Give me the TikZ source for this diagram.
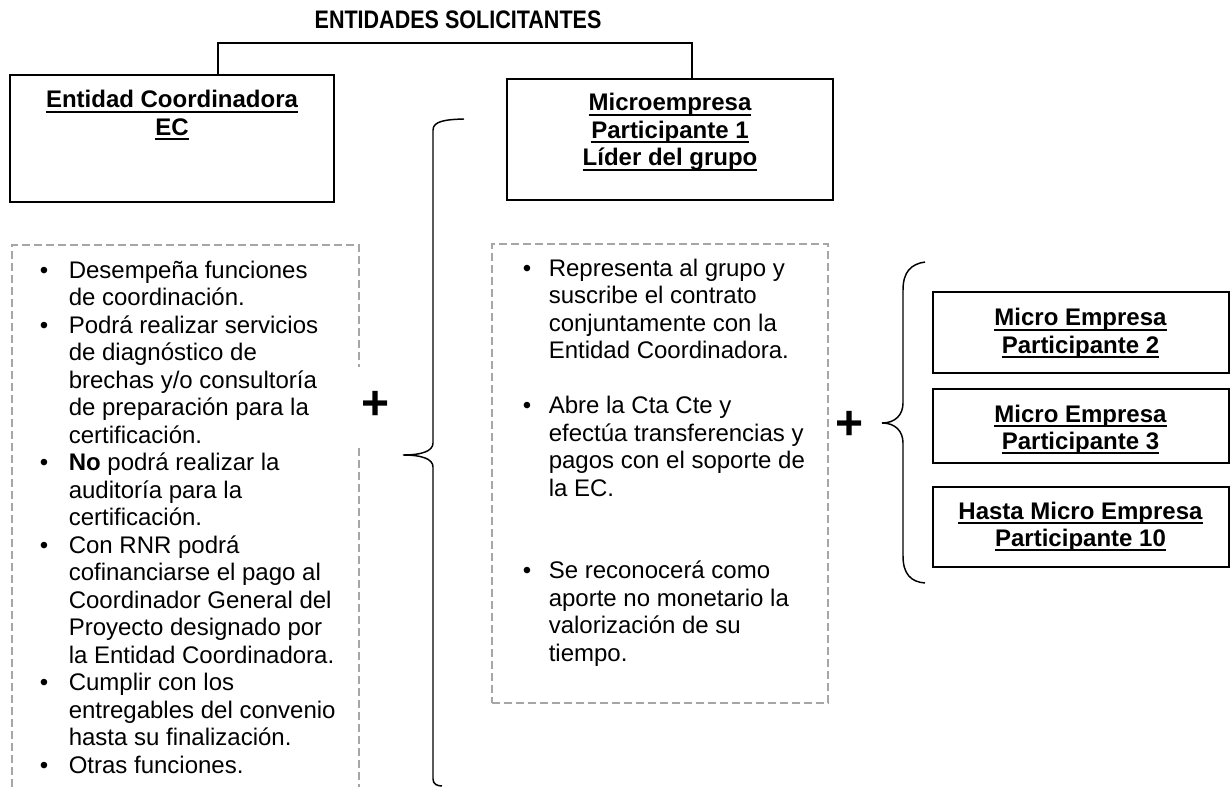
\documentclass[tikz,border=0pt]{standalone}
\usepackage{fontspec}
\setmainfont{Liberation Sans}
\newfontfamily\titlefont[FakeStretch=0.85]{Liberation Sans}
\newcommand\ulx[1]{\setbox0\hbox{#1}\rlap{\rule[-3.4pt]{\wd0}{1.5pt}}\box0}
\newcommand\fs{\fontsize{18pt}{20.625pt}\selectfont}
\newcommand\bl{\makebox[21.75pt][l]{•}}
\newcommand\ind{\hspace*{21.75pt}}
\newcommand\bm{\makebox[19.5pt][l]{•}}
\newcommand\inm{\hspace*{19.5pt}}
\tikzset{
  box/.style={draw, line width=1.5pt, inner sep=0pt},
  dashbox/.style={draw=black!35, line width=1pt, dash pattern=on 6pt off 3pt},
  lbl/.style={font=\fs\bfseries, align=center, inner sep=0pt, anchor=base},
  lst/.style={font=\fs, align=left, inner sep=0pt, anchor=base west},
  conn/.style={line width=1.1pt},
  brc/.style={line width=1.1pt},
  plus/.style={font=\fontsize{36pt}{36pt}\selectfont\bfseries, inner sep=0pt}
}
\begin{document}
\begin{tikzpicture}[x=0.75pt,y=-0.75pt]
\path[use as bounding box] (0,0) rectangle (1230,787);

% title
\node[lbl, font=\fontsize{19pt}{22pt}\selectfont\bfseries] (title) at (458,29) {\titlefont ENTIDADES SOLICITANTES};

% top boxes (text anchors are at the baseline of the last line)
\node[box, minimum width=243pt, minimum height=95.25pt] (ec) at (172,138.5) {};
\node[lbl] (ect) at (172,135.5) {\ulx{Entidad Coordinadora}\\\ulx{EC}};
\node[box, minimum width=244.5pt, minimum height=90.4pt] (me1) at (670,139.25) {};
\node[lbl] (me1t) at (670,166) {\ulx{Microempresa}\\\ulx{Participante 1}\\\ulx{Líder del grupo}};

% connector
\coordinate (jl) at (218,43);
\coordinate (jr) at (692,43);
\draw[conn] (ec.north -| jl) -- (jl) -- (jr) -- (me1.north -| jr);

% dashed boxes
\node[minimum width=260.25pt, minimum height=406.5pt, inner sep=0pt, outer sep=0pt] (ecd) at (185.5,516) {};
\draw[dashbox] (ecd.south west) |- (ecd.north east) -- (ecd.south east);
\node[dashbox, minimum width=252pt, minimum height=344.25pt, inner sep=0pt] (med) at (660,473.5) {};

% lists
\node[lst] (ecl) at (39.5,773) {\bl Desempeña funciones\\\ind de coordinación.\\\bl Podrá realizar servicios\\\ind de diagnóstico de\\\ind brechas y/o consultoría\\\ind de preparación para la\\\ind certificación.\\\bl \textbf{No} podrá realizar la\\\ind auditoría para la\\\ind certificación.\\\bl Con RNR podrá\\\ind cofinanciarse el pago al\\\ind Coordinador General del\\\ind Proyecto designado por\\\ind la Entidad Coordinadora.\\\bl Cumplir con los\\\ind entregables del convenio\\\ind hasta su finalización.\\\bl Otras funciones.};
\node[lst] (mel) at (522.5,661) {\bm Representa al grupo y\\\inm suscribe el contrato\\\inm conjuntamente con la\\\inm Entidad Coordinadora.\\[20.625pt]\bm Abre la Cta Cte y\\\inm efectúa transferencias y\\\inm pagos con el soporte de\\\inm la EC.\\[41.25pt]\bm Se reconocerá como\\\inm aporte no monetario la\\\inm valorización de su\\\inm tiempo.};

% plus signs
\node[plus, fill=white, minimum width=30pt, minimum height=57pt] (p1) at (376,405.5) {+};
\node[plus] (p2) at (849.5,425.5) {+};

% braces
\draw[brc] (464,119) .. controls (446,119.5) and (433,121) .. (433,130) -- (433,443) .. controls (433,451) and (422,455) .. (403,455) .. controls (422,455) and (433,459) .. (433,467) -- (433,779) .. controls (433,784) and (437,786) .. (442,786);
\draw[brc] (925,262) .. controls (911,264) and (903,272) .. (903,290) -- (903,403) .. controls (903,415) and (895,423) .. (882,423) .. controls (895,423) and (903,431) .. (903,443) -- (903,556) .. controls (903,574) and (911,582) .. (925,583);

% right boxes
\node[box, minimum width=222pt, minimum height=60.75pt] (me2) at (1080.5,332.5) {};
\node[lbl] (me2t) at (1080.5,353.5) {\ulx{Micro Empresa}\\\ulx{Participante 2}};
\node[box, minimum width=222pt, minimum height=55.5pt] (me3) at (1080.5,426) {};
\node[lbl] (me3t) at (1080.5,449.5) {\ulx{Micro Empresa}\\\ulx{Participante 3}};
\node[box, minimum width=222pt, minimum height=60pt] (me10) at (1080.5,527) {};
\node[lbl] (me10t) at (1080.5,546.5) {\ulx{Hasta Micro Empresa}\\\ulx{Participante 10}};
\end{tikzpicture}
\end{document}
